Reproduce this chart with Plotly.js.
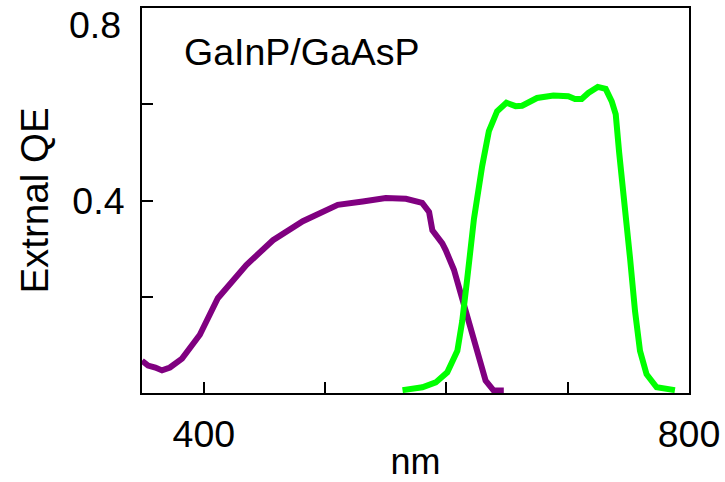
<!DOCTYPE html>
<html>
<head>
<meta charset="utf-8">
<script src="https://cdn.plot.ly/plotly-3.0.1.min.js"></script>
<style>html,body{margin:0;padding:0;background:#fff;}#chart{width:725px;height:482px;}</style>
</head>
<body>
<div id="chart"></div>
<script>
// GaInP top cell (purple)
var gainpNm = [349, 354, 360, 365.5, 372, 382, 396.7, 411.5, 435, 457, 481.6, 510.4, 531, 550, 566.6, 580, 585.7, 588.4, 596.6, 599.4, 606.2, 613, 620, 626.8, 632.3, 639, 647.3];
var gainpQE = [0.067, 0.057, 0.053, 0.047, 0.053, 0.0715, 0.121, 0.197, 0.266, 0.3175, 0.357, 0.391, 0.398, 0.405, 0.4035, 0.395, 0.376, 0.338, 0.311, 0.297, 0.256, 0.197, 0.1355, 0.067, 0.0256, 0.005, 0.005];
// GaAsP bottom cell (green)
var gaaspNm = [563.8, 580.2, 591.2, 600.7, 609, 613, 617.2, 622.7, 629.5, 635, 641.8, 649.5, 657, 662.4, 674.7, 688.2, 700.5, 706, 711.5, 717, 724.8, 731.3, 736.3, 739.6, 742.4, 747.3, 751.4, 755.5, 759.6, 765, 773.3, 788.4];
var gaaspQE = [0.006, 0.012, 0.022, 0.043, 0.0875, 0.149, 0.2386, 0.362, 0.472, 0.544, 0.5856, 0.603, 0.596, 0.597, 0.613, 0.618, 0.6165, 0.611, 0.611, 0.6235, 0.636, 0.632, 0.606, 0.579, 0.5, 0.362, 0.28, 0.17, 0.0875, 0.039, 0.012, 0.006];

var xTickVals = [400, 500, 600, 700, 800];
var xTickText = ["400", "", "", "", "800"];
var yTickVals = [0.2, 0.4, 0.6];
var yTickText = ["", "0.4", ""];
var yTopValue = 0.8;
var yTopText = "0.8";
var panelLabel = "GaInP/GaAsP";

var FONT = "Liberation Sans, Arial, sans-serif";
var traces = [
  {x: gainpNm, y: gainpQE, type: "scatter", mode: "lines", line: {color: "#800080", width: 6}, hoverinfo: "skip"},
  {x: gaaspNm, y: gaaspQE, type: "scatter", mode: "lines", line: {color: "#00ff00", width: 6}, hoverinfo: "skip"}
];
var layout = {
  width: 725, height: 482,
  margin: {l: 142, r: 36, t: 8, b: 89},
  paper_bgcolor: "#fff", plot_bgcolor: "#fff",
  showlegend: false,
  font: {family: FONT, color: "#000", size: 37.5},
  xaxis: {
    range: [349, 800], showgrid: false, zeroline: false,
    showline: true, linecolor: "#000", linewidth: 2, mirror: true,
    ticks: "inside", ticklen: 11, tickwidth: 2, tickcolor: "#000",
    tickmode: "array", tickvals: xTickVals, ticktext: xTickText,
    tickfont: {size: 37.5}, ticklabelstandoff: 7,
    title: {text: "nm", font: {size: 36}, standoff: 4}
  },
  yaxis: {
    range: [0, 0.8], showgrid: false, zeroline: false,
    showline: true, linecolor: "#000", linewidth: 2, mirror: true,
    ticks: "inside", ticklen: 11, tickwidth: 2, tickcolor: "#000",
    tickmode: "array", tickvals: yTickVals, ticktext: yTickText,
    tickfont: {size: 37.5}, ticklabelstandoff: 8,
    title: {text: "Extrnal QE", font: {size: 38.5}, standoff: 12}
  },
  annotations: [
    {
      text: panelLabel, xref: "paper", yref: "paper", x: 0.073, y: 0.886,
      xanchor: "left", yanchor: "middle", showarrow: false, font: {size: 37.5}
    },
    {
      text: yTopText, xref: "paper", yref: "y", x: 0, y: yTopValue,
      xanchor: "right", yanchor: "middle", xshift: -19, yshift: -17,
      showarrow: false, font: {size: 37.5}
    }
  ]
};
Plotly.newPlot("chart", traces, layout, {staticPlot: true, displayModeBar: false});
</script>
</body>
</html>
